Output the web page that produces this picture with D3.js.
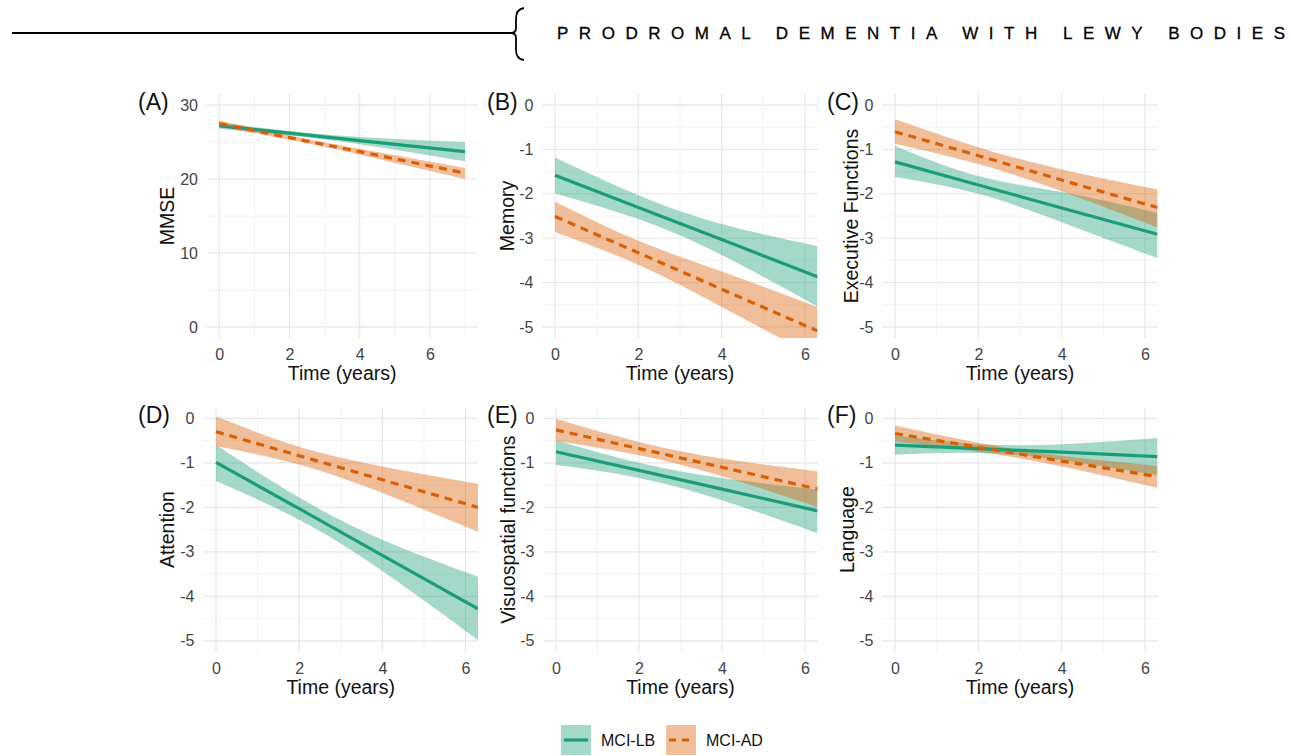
<!DOCTYPE html>
<html>
<head>
<meta charset="utf-8">
<script src="https://cdn.jsdelivr.net/npm/d3@7"></script>
<style>
  body { margin: 0; background: #fff; }
  text { font-family: "Liberation Sans", Arial, sans-serif; }
</style>
</head>
<body>
<div id="chart"></div>
<script>
// values (time in years, predicted score + CI band)

let yearsMMSE = [0, 2, 4, 7]
let years = [0, 2, 4, 6.3]

let mmseLB = { fit: [27.2, 26.2, 25.2, 23.7], lo: [26.8, 25.9, 24.7, 22.4], hi: [27.6, 26.5, 25.7, 25.0] }
let mmseAD = { fit: [27.5, 25.6, 23.7, 20.8], lo: [27.1, 25.3, 23.3, 20.0], hi: [27.9, 25.9, 24.1, 21.5] }

let memoryLB = { fit: [-1.58, -2.31, -3.03, -3.87], lo: [-1.99, -2.57, -3.38, -4.54], hi: [-1.18, -2.03, -2.68, -3.18] }
let memoryAD = { fit: [-2.51, -3.33, -4.15, -5.09], lo: [-2.86, -3.60, -4.55, -5.70], hi: [-2.18, -3.06, -3.75, -4.55] }

let execLB = { fit: [-1.28, -1.80, -2.32, -2.91], lo: [-1.62, -2.00, -2.64, -3.45], hi: [-0.92, -1.60, -1.96, -2.43] }
let execAD = { fit: [-0.60, -1.14, -1.69, -2.31], lo: [-0.87, -1.33, -1.94, -2.76], hi: [-0.32, -0.95, -1.45, -1.90] }

let attLB = { fit: [-0.99, -2.03, -3.08, -4.28], lo: [-1.41, -2.28, -3.43, -4.98], hi: [-0.60, -1.78, -2.73, -3.56] }
let attAD = { fit: [-0.30, -0.84, -1.38, -2.00], lo: [-0.62, -1.04, -1.68, -2.55], hi: [0.04, -0.64, -1.08, -1.47] }

let visLB = { fit: [-0.75, -1.17, -1.59, -2.08], lo: [-1.05, -1.34, -1.84, -2.58], hi: [-0.49, -1.00, -1.34, -1.60] }
let visAD = { fit: [-0.26, -0.68, -1.10, -1.59], lo: [-0.51, -0.83, -1.30, -1.99], hi: [-0.01, -0.53, -0.90, -1.19] }

let langLB = { fit: [-0.60, -0.68, -0.76, -0.86], lo: [-0.82, -0.78, -0.94, -1.28], hi: [-0.38, -0.58, -0.58, -0.44] }
let langAD = { fit: [-0.34, -0.65, -0.96, -1.31], lo: [-0.52, -0.75, -1.08, -1.56], hi: [-0.16, -0.55, -0.84, -1.07] }

let tags = ["(A)", "(B)", "(C)", "(D)", "(E)", "(F)"]
let yTitles = ["MMSE", "Memory", "Executive Functions", "Attention", "Visuospatial functions", "Language"]
let groups = ["MCI-LB", "MCI-AD"]
let xTicks = [0, 2, 4, 6]
let yTicksMMSE = [0, 10, 20, 30]
let yTicksZ = [0, -1, -2, -3, -4, -5]

let green = "#1b9e77"
let orange = "#d95f02"

// panel boxes (layout only)
let panels = [
  { tag: tags[0], title: yTitles[0], lb: mmseLB, ad: mmseAD, t: yearsMMSE, xdom: [-0.35, 7.35], ydom: [-1.5, 31.5], yticks: yTicksMMSE, l: 207, r: 477.3, top: 94, bot: 338, tx: 138, ttx: 167 },
  { tag: tags[1], title: yTitles[1], lb: memoryLB, ad: memoryAD, t: years, xdom: [-0.3, 6.3], ydom: [-5.25, 0.25], yticks: yTicksZ, l: 542.5, r: 817.5, top: 94, bot: 338, tx: 487, ttx: 507 },
  { tag: tags[2], title: yTitles[2], lb: execLB, ad: execAD, t: years, xdom: [-0.3, 6.3], ydom: [-5.25, 0.25], yticks: yTicksZ, l: 882.5, r: 1157.5, top: 94, bot: 338, tx: 827, ttx: 851 },
  { tag: tags[3], title: yTitles[3], lb: attLB, ad: attAD, t: years, xdom: [-0.3, 6.3], ydom: [-5.25, 0.25], yticks: yTicksZ, l: 203.5, r: 478, top: 407.2, bot: 652, tx: 138, ttx: 167 },
  { tag: tags[4], title: yTitles[4], lb: visLB, ad: visAD, t: years, xdom: [-0.3, 6.3], ydom: [-5.25, 0.25], yticks: yTicksZ, l: 543.5, r: 817.5, top: 407.2, bot: 652, tx: 487, ttx: 508 },
  { tag: tags[5], title: yTitles[5], lb: langLB, ad: langAD, t: years, xdom: [-0.3, 6.3], ydom: [-5.25, 0.25], yticks: yTicksZ, l: 882.5, r: 1157.5, top: 407.2, bot: 652, tx: 827, ttx: 847 }
]

let svg = d3.select("#chart").append("svg")
  .attr("width", 1291)
  .attr("height", 756)

// header
svg.append("line")
   .attr("x1", 12).attr("x2", 512)
   .attr("y1", 33).attr("y2", 33)
   .style("stroke", "#000").style("stroke-width", 2)
svg.append("path")
   .attr("d", "M524,8 Q516,9 516,19 L516,28 Q516,33 511,33 Q516,33 516,38 L516,50 Q516,59 524,60")
   .style("fill", "none").style("stroke", "#000").style("stroke-width", 1.8)
svg.append("text")
   .attr("x", 557).attr("y", 39)
   .attr("textLength", 728).attr("lengthAdjust", "spacing")
   .style("font-size", "17px").style("fill", "#000")
   .style("stroke", "#000").style("stroke-width", 0.3)
   .text("PRODROMAL DEMENTIA WITH LEWY BODIES")

let defs = svg.append("defs")

panels.forEach(function (p, i) {
  let x = d3.scaleLinear().domain(p.xdom).range([p.l, p.r])
  let y = d3.scaleLinear().domain(p.ydom).range([p.bot, p.top])
  let g = svg.append("g")

  // grid: minor then major
  let xMinor = d3.range(1, p.xdom[1], 2)
  let yMinor = p.yticks.slice(1).map((v, k) => (v + p.yticks[k]) / 2)
  g.selectAll(".xminor").data(xMinor).enter().append("line")
    .attr("x1", d => x(d)).attr("x2", d => x(d)).attr("y1", p.top).attr("y2", p.bot)
    .style("stroke", "#f1f1f1").style("stroke-width", 0.8)
  g.selectAll(".yminor").data(yMinor).enter().append("line")
    .attr("y1", d => y(d)).attr("y2", d => y(d)).attr("x1", p.l).attr("x2", p.r)
    .style("stroke", "#f1f1f1").style("stroke-width", 0.8)
  g.selectAll(".xmajor").data(xTicks).enter().append("line")
    .attr("x1", d => x(d)).attr("x2", d => x(d)).attr("y1", p.top).attr("y2", p.bot)
    .style("stroke", "#e6e6e6").style("stroke-width", 1.1)
  g.selectAll(".ymajor").data(p.yticks).enter().append("line")
    .attr("y1", d => y(d)).attr("y2", d => y(d)).attr("x1", p.l).attr("x2", p.r)
    .style("stroke", "#e6e6e6").style("stroke-width", 1.1)

  // clip to panel
  defs.append("clipPath").attr("id", "clip" + i)
    .append("rect").attr("x", p.l).attr("y", p.top).attr("width", p.r - p.l).attr("height", p.bot - p.top)
  let plot = g.append("g").attr("clip-path", "url(#clip" + i + ")")

  let series = [{ d: p.lb, c: green, dash: null }, { d: p.ad, c: orange, dash: "8,6" }]
  series.forEach(function (s) {
    let rows = p.t.map((t, k) => ({ t: t, lo: s.d.lo[k], hi: s.d.hi[k] }))
    plot.append("path")
      .datum(rows)
      .attr("d", d3.area().curve(d3.curveNatural).x(d => x(d.t)).y0(d => y(d.lo)).y1(d => y(d.hi)))
      .style("fill", s.c).style("fill-opacity", 0.4)
  })
  series.forEach(function (s) {
    let rows = p.t.map((t, k) => ({ t: t, v: s.d.fit[k] }))
    plot.append("path")
      .datum(rows)
      .attr("d", d3.line().x(d => x(d.t)).y(d => y(d.v)))
      .style("fill", "none").style("stroke", s.c).style("stroke-width", 3.2)
      .style("stroke-dasharray", s.dash)
  })

  // axes
  let ax = g.append("g").attr("transform", "translate(0," + p.bot + ")")
    .call(d3.axisBottom(x).tickValues(xTicks).tickSize(0).tickPadding(11).tickFormat(d => String(d)))
  let ay = g.append("g").attr("transform", "translate(" + (p.l - 1) + ",0)")
    .call(d3.axisLeft(y).tickValues(p.yticks).tickSize(0).tickPadding(8).tickFormat(d => String(d)))
  ;[ax, ay].forEach(function (a) {
    a.select(".domain").remove()
    a.selectAll("text").style("font-size", "16px").style("fill", "#444")
      .style("font-family", "'Liberation Sans', Arial, sans-serif")
  })

  g.append("text")
    .attr("x", (p.l + p.r) / 2).attr("y", p.bot + 42)
    .attr("text-anchor", "middle")
    .style("font-size", "19.5px").style("fill", "#111")
    .text("Time (years)")
  g.append("text")
    .attr("transform", "translate(" + (p.ttx + 7) + "," + ((p.top + p.bot) / 2) + ") rotate(-90)")
    .attr("text-anchor", "middle")
    .style("font-size", "19.5px").style("fill", "#111")
    .text(p.title)
  g.append("text")
    .attr("x", p.tx).attr("y", p.top + 16)
    .style("font-size", "23px").style("fill", "#111")
    .text(p.tag)
})

// legend
let legend = svg.append("g")
let keys = [{ name: groups[0], c: green, dash: null, x: 561 }, { name: groups[1], c: orange, dash: "7,6", x: 666 }]
keys.forEach(function (k) {
  legend.append("rect")
    .attr("x", k.x).attr("y", 725).attr("width", 30).attr("height", 30)
    .style("fill", k.c).style("fill-opacity", 0.4)
  legend.append("line")
    .attr("x1", k.x + 3).attr("x2", k.x + 27).attr("y1", 740).attr("y2", 740)
    .style("stroke", k.c).style("stroke-width", 3.2).style("stroke-dasharray", k.dash)
  legend.append("text")
    .attr("x", k.x + 40).attr("y", 746)
    .style("font-size", "16px").style("fill", "#111")
    .text(k.name)
})
</script>
</body>
</html>
